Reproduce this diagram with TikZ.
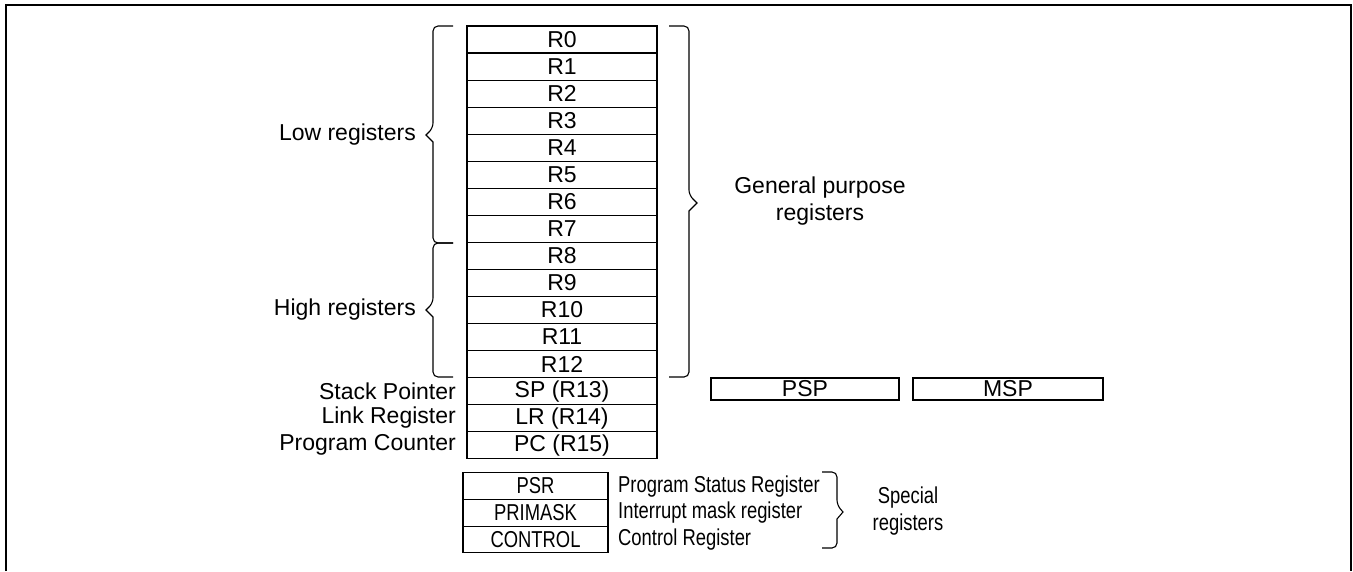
\documentclass[tikz,border=0pt]{standalone}
\usepackage{fontspec}
\setmainfont{Liberation Sans}
\newfontfamily\narrowfont[FakeStretch=0.8]{Liberation Sans}
\begin{document}
\begin{tikzpicture}[x=1pt,y=-1pt,
  txt/.style={font=\fontsize{23}{27}\selectfont, inner sep=0pt},
  ntxt/.style={font=\narrowfont\fontsize{23}{27}\selectfont, inner sep=0pt},
  reg/.style={draw, line width=1.2pt, minimum width=190pt, minimum height=27.05pt, inner sep=0pt, txt},
  sreg/.style={draw, line width=1.2pt, minimum width=145pt, minimum height=26.7pt, inner sep=0pt, ntxt},
  sp/.style={draw, line width=1.2pt, minimum width=188pt, minimum height=22pt, inner sep=0pt, txt},
  brace/.style={draw, line width=1.1pt, rounded corners=5pt}
]
\useasboundingbox (0,0) rectangle (1353,571);
\draw[line width=2pt] (6,571) -- (6,5) -- (1351,5) -- (1351,571);

% general registers
\foreach \i/\t in {0/R0,1/R1,2/R2,3/R3,4/R4,5/R5,6/R6,7/R7,8/R8,9/R9,10/R10,11/R11,12/R12,13/SP (R13),14/LR (R14),15/PC (R15)}{
  \node[reg] (r\i) at (562,{26+27.05*\i+13.525}) {\t};
}

% side labels
\node[txt, anchor=east] (lsp) at (456,391) {Stack Pointer};
\node[txt, anchor=east] (llr) at (456,418) {Link Register};
\node[txt, anchor=east] (lpc) at (456,445) {Program Counter};
\node[txt, anchor=east] (low) at (416,135) {Low registers};
\node[txt, anchor=east] (high) at (416,310) {High registers};
\node[txt, align=center] (gpr) at (820,201) {General purpose\\registers};

% braces
\draw[brace] (453,26) -- (433,26) -- (433,128) [sharp corners] -- (426,135) -- (433,142) [rounded corners=5pt] -- (433,243) -- (453,243);
\draw[brace] (453,243) -- (433,243) -- (433,303) [sharp corners] -- (426,310) -- (433,317) [rounded corners=5pt] -- (433,377) -- (453,377);
\draw[brace] (669,26) -- (689,26) -- (689,195) [sharp corners] -- (697,203) -- (689,211) [rounded corners=5pt] -- (689,377) -- (669,377);

% PSP / MSP
\node[sp] (psp) at (805,389) {PSP};
\node[sp, minimum width=190pt] (msp) at (1008,389) {MSP};

% special registers
\foreach \i/\t/\d in {0/PSR/Program Status Register,1/PRIMASK/Interrupt mask register,2/CONTROL/Control Register}{
  \node[sreg] (s\i) at (535.5,{472.7+26.7*\i+13.35}) {\t};
  \node[ntxt, anchor=west] (d\i) at (618,{472.7+26.7*\i+13.35}) {\d};
}
\draw[brace] (822,472) -- (837,472) -- (837,505) [sharp corners] -- (843,512) -- (837,519) [rounded corners=5pt] -- (837,548) -- (822,548);
\node[ntxt, align=center] (spec) at (908,511) {Special\\registers};
\end{tikzpicture}
\end{document}
